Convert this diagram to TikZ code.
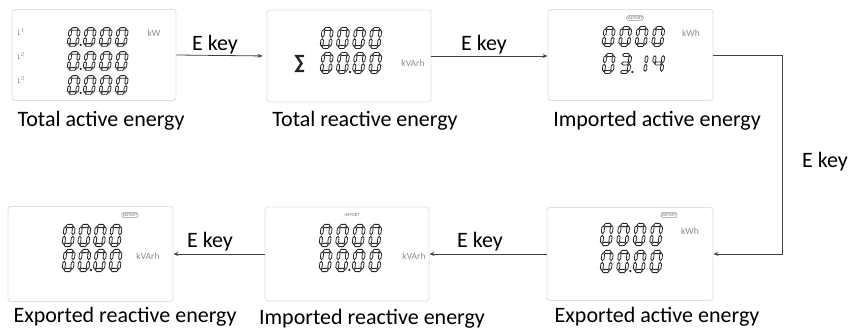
\documentclass[tikz,border=0pt]{standalone}
\usepackage{fontspec}
\setmainfont{Carlito}
\usetikzlibrary{arrows.meta}
\tikzset{
  segp/.style={fill=white, draw=black!85, line width=0.8pt, line join=miter},
  panel/.style={draw=black!12, line width=0.9pt, rounded corners=3pt, fill=white, inner sep=0pt},
  caption/.style={font=\fontsize{22}{26}\selectfont, anchor=base, inner sep=0pt},
  keylab/.style={font=\fontsize{22}{26}\selectfont, anchor=base, inner sep=0pt},
  unit/.style={font=\fontsize{9.5}{11}\selectfont, text=black!45, inner sep=0pt},
  tag/.style={font=\fontsize{4.5}{5}\selectfont, text=black!55, inner sep=0.9pt},
  tagbox/.style={tag, draw=black!40, rounded corners=1.5pt, line width=0.4pt},
  conn/.style={draw=black!75, line width=0.8pt, -{Stealth[length=5pt,width=4pt]}}
}
% horizontal segment at local y=#1
\newcommand\lcdH[1]{\filldraw[segp] (0.7,#1)--(2.1,{#1-1.35})--(6.4,{#1-1.35})--(7.8,#1)--(6.4,{#1+1.35})--(2.1,{#1+1.35})--cycle;}
% vertical segment at local x=#1 from y=#2 (top) to y=#3 (bottom)
\newcommand\lcdV[3]{\filldraw[segp] (#1,#2)--({#1+1.35},{#2+1.35})--({#1+1.35},{#3-1.35})--(#1,#3)--({#1-1.35},{#3-1.35})--({#1-1.35},{#2+1.35})--cycle;}
\newcommand\lcdA{\lcdH{-16}}
\newcommand\lcdB{\lcdV{8.5}{-15.3}{-8.7}}
\newcommand\lcdC{\lcdV{8.5}{-7.3}{-0.7}}
\newcommand\lcdD{\lcdH{0}}
\newcommand\lcdE{\lcdV{0}{-7.3}{-0.7}}
\newcommand\lcdF{\lcdV{0}{-15.3}{-8.7}}
\newcommand\lcdG{\lcdH{-8}}
\newcommand\lcdz{\lcdA\lcdB\lcdC\lcdD\lcdE\lcdF}
\newcommand\lcdo{\lcdB\lcdC}
\newcommand\lcdt{\lcdA\lcdB\lcdC\lcdD\lcdG}
\newcommand\lcdf{\lcdB\lcdC\lcdF\lcdG}
% x, bottom y, height, pitch, digit list
\newcommand\lcdrow[5]{%
  \foreach \dd [count=\ii from 0] in {#5} {%
    \begin{scope}[shift={({#1+\ii*#4},#2)},yscale=#3/16,xslant=0.13]
      \csname lcd\dd\endcsname
    \end{scope}}}
\newcommand\lcddot[2]{\fill[black!85] (#1,#2) circle (1.3);}
\begin{document}
\begin{tikzpicture}[x=1pt,y=-1pt]
\useasboundingbox (0,0) rectangle (852,331);
\fill[white] (0,0) rectangle (852,331);
% panels
\node[panel, minimum width=164pt, minimum height=91pt] (p1) at (94,55) {};
\node[panel, minimum width=164pt, minimum height=92pt] (p2) at (349,56) {};
\node[panel, minimum width=165pt, minimum height=91pt] (p3) at (630.5,55) {};
\node[panel, minimum width=165pt, minimum height=95pt] (p4) at (90.5,254) {};
\node[panel, minimum width=164pt, minimum height=94pt] (p5) at (347,254) {};
\node[panel, minimum width=166pt, minimum height=93pt] (p6) at (630,254) {};
% panel 1
\node[unit, font=\fontsize{8}{9}\selectfont\itshape] (l1) at (21,32) {L\textsuperscript{1}};
\node[unit, font=\fontsize{8}{9}\selectfont\itshape] (l2) at (21,56) {L\textsuperscript{2}};
\node[unit, font=\fontsize{8}{9}\selectfont\itshape] (l3) at (21,80) {L\textsuperscript{3}};
\node[unit] (u1) at (154,33) {kW};
\lcdrow{68.4}{45}{16}{16}{z,z,z,z}
\lcdrow{68.4}{69}{16}{16}{z,z,z,z}
\lcdrow{68.4}{93}{16}{16}{z,z,z,z}
\lcddot{80.6}{45}\lcddot{80.6}{69}\lcddot{80.6}{93}
% panel 2
\draw[black!85, line width=2.4pt, line join=miter] (304,56)--(296.5,56)--(301.5,63.5)--(296.5,71)--(304,71);
\node[unit] (u2) at (413,63) {kVArh};
\lcdrow{321.4}{47}{18}{16.2}{z,z,z,z}
\lcdrow{321.4}{72}{18}{16.2}{z,z,z,z}
\lcddot{350}{72}
% panel 3
\node[tagbox] (t3) at (635,18) {IMPORT};
\node[unit] (u3) at (691,33) {kWh};
\lcdrow{603.4}{45}{17}{16.5}{z,z,z,z}
\lcdrow{603.4}{72}{17}{16.5}{z,t,o,f}
\lcddot{632.3}{72}
% panel 4
\node[tagbox] (t4) at (130,215) {EXPORT};
\node[unit] (u4) at (148,256) {kVArh};
\lcdrow{63.4}{245}{19}{15.6}{z,z,z,z}
\lcdrow{63.4}{270}{19}{15.6}{z,z,z,z}
\lcddot{91}{270}
% panel 5
\node[tag] (t5) at (352,215) {IMPORT};
\node[unit] (u5) at (414,256) {kVArh};
\lcdrow{320.4}{245}{19}{16.5}{z,z,z,z}
\lcdrow{320.4}{270}{19}{16.5}{z,z,z,z}
\lcddot{349.3}{270}
% panel 6
\node[tagbox] (t6) at (669,215) {EXPORT};
\node[unit] (u6) at (690,231) {kWh};
\lcdrow{601.4}{244}{19}{16.5}{z,z,z,z}
\lcdrow{601.4}{271}{19}{16.5}{z,z,z,z}
\lcddot{630.3}{271}
% captions
\node[caption] (c1) at (101,127) {Total active energy};
\node[caption] (c2) at (365,127) {Total reactive energy};
\node[caption] (c3) at (657,127) {Imported active energy};
\node[caption] (c4) at (125,323) {Exported reactive energy};
\node[caption] (c5) at (372,324) {Imported reactive energy};
\node[caption] (c6) at (657,323) {Exported active energy};
% connectors
\draw[conn, shorten >=4pt] (p1.east) -- (p2.west);
\draw[conn] (p2.east) -- (p3.west |- p2.east);
\coordinate (rc) at (782,0);
\draw[conn] (p3.east) -| (rc |- p6.east) -- (p6.east);
\draw[conn] (p6.west) -- (p5.east);
\draw[conn] (p5.west) -- (p4.east);
\node[keylab] (k1) at (215,51) {E key};
\node[keylab] (k2) at (484,51) {E key};
\node[keylab] (k3) at (825,168) {E key};
\node[keylab] (k4) at (210,248) {E key};
\node[keylab] (k5) at (480,248) {E key};
\end{tikzpicture}
\end{document}
